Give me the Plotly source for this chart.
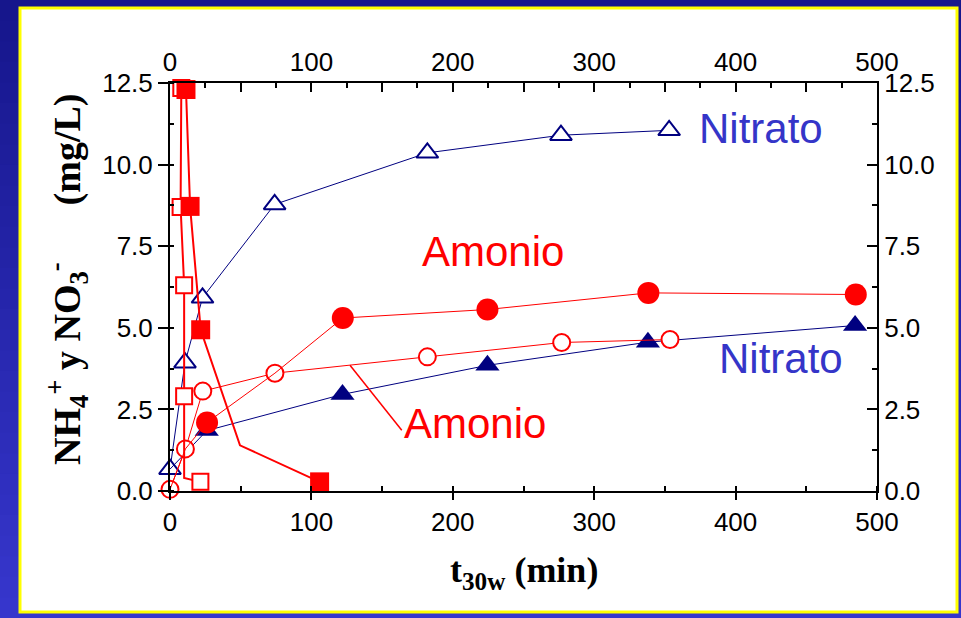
import plotly.graph_objects as go

# ---------------- data (t in min, concentration in mg/L) ----------------
# Nitrato, open triangles
t_nit_open = [0, 10.6, 23, 74, 182, 276.5, 353]
c_nit_open = [0.67, 3.93, 5.92, 8.78, 10.36, 10.90, 11.05]

# Nitrato, filled triangles (first point shared with the open series)
t_nit_fill = [0, 26, 122, 224.5, 338, 484.5]
c_nit_fill = [0.67, 1.85, 2.96, 3.85, 4.56, 5.07]

# Amonio, open circles
t_amo_circ_open = [0, 10.9, 23.2, 74.2, 182, 277, 353.6]
c_amo_circ_open = [0.05, 1.29, 3.06, 3.61, 4.11, 4.55, 4.64]

# Amonio, filled circles (passes through some open-circle points)
t_amo_circ_fill = [0, 10.9, 26.2, 74.2, 122.2, 224.5, 338.3, 485]
c_amo_circ_fill = [0.05, 1.29, 2.10, 3.61, 5.30, 5.56, 6.07, 6.02]

# Amonio, open squares
t_amo_sq_open = [8, 7.5, 10, 10, 10, 21.5]
c_amo_sq_open = [12.35, 8.70, 6.30, 2.90, 0.40, 0.28]

# Amonio, filled squares
t_amo_sq_fill = [11.3, 14.2, 21.7, 49.5, 105.8]
c_amo_sq_fill = [12.30, 8.72, 4.94, 1.40, 0.28]

x_ticks = [0, 100, 200, 300, 400, 500]
x_half_ticks = [50, 150, 250, 350, 450]

# points on a line that carry no symbol of their own
unmarked = {
    "nit_fill": [0],
    "amo_circ_fill": [0, 1, 3],
    "amo_sq_open": [4],
    "amo_sq_fill": [3],
}

# ---------------- styling ----------------
RED = "#ff0000"
NAVY = "#000080"
LABEL_BLUE = "#3535c8"
SANS = "Liberation Sans, Arial, sans-serif"
SERIF = "Liberation Serif, Times New Roman, serif"

W, H = 961, 618
ML, MR, MT, MB = 170, 84, 83, 127
PW, PH = W - ML - MR, H - MT - MB


def px(x):
    return (x - ML) / PW


def py(y):
    return (H - MB - y) / PH


def opacities(n, key):
    skip = set(unmarked.get(key, []))
    return [0 if i in skip else 1 for i in range(n)]


fig = go.Figure()


def add_series(t, c, key, symbol, size, color, filled, lw):
    fig.add_trace(go.Scatter(
        x=t, y=c, mode="lines+markers", cliponaxis=False,
        line=dict(color=color, width=lw),
        marker=dict(symbol=symbol, size=size,
                    color=color if filled else "white",
                    opacity=opacities(len(t), key),
                    line=dict(color=color, width=0 if filled else 2)),
        hoverinfo="skip", showlegend=False,
    ))


add_series(t_nit_open, c_nit_open, "nit_open", "triangle-up", 19, NAVY, False, 1)
add_series(t_nit_fill, c_nit_fill, "nit_fill", "triangle-up", 21, NAVY, True, 1)
add_series(t_amo_circ_open, c_amo_circ_open, "amo_circ_open", "circle", 17, RED, False, 1)
add_series(t_amo_circ_fill, c_amo_circ_fill, "amo_circ_fill", "circle", 22, RED, True, 1)
add_series(t_amo_sq_open, c_amo_sq_open, "amo_sq_open", "square", 16, RED, False, 2)
add_series(t_amo_sq_fill, c_amo_sq_fill, "amo_sq_fill", "square", 19, RED, True, 2)

# carriers for the mirrored top / right axes
for xa in ("x2", "x3"):
    fig.add_trace(go.Scatter(x=t_nit_open, y=c_nit_open, xaxis=xa, yaxis="y2",
                             mode="markers", marker=dict(opacity=0),
                             hoverinfo="skip", showlegend=False))

tickfont = dict(family=SANS, size=26, color="black")
axis_common = dict(showline=True, linecolor="black", linewidth=2,
                   showgrid=False, zeroline=False, tickcolor="black",
                   tickwidth=1.5, tickfont=tickfont)

# background: blue gradient frame, white panel with yellow border
shapes = []
N = 30
top_rgb, bot_rgb = (22, 22, 140), (54, 54, 204)
for i in range(N):
    f = i / (N - 1)
    col = "rgb(%d,%d,%d)" % tuple(round(a + (b - a) * f) for a, b in zip(top_rgb, bot_rgb))
    y0 = H * i / N
    y1 = H * (i + 1) / N + 1
    shapes.append(dict(type="rect", xref="paper", yref="paper", layer="below",
                       x0=px(0), x1=px(W), y0=py(y1), y1=py(y0),
                       fillcolor=col, line=dict(width=0)))
shapes.append(dict(type="rect", xref="paper", yref="paper", layer="below",
                   x0=px(20), x1=px(957), y0=py(612), y1=py(8),
                   fillcolor="white", line=dict(color="#ffff00", width=3)))
# leader line for the lower "Amonio" label
shapes.append(dict(type="line", xref="x", yref="y", x0=127.3, y0=3.85, x1=163.9, y1=1.86,
                   line=dict(color=RED, width=1.5)))

annotations = [
    dict(x=418, y=11.1, text="Nitrato", font=dict(family=SANS, size=42, color=LABEL_BLUE)),
    dict(x=432, y=4.06, text="Nitrato", font=dict(family=SANS, size=42, color=LABEL_BLUE)),
    dict(x=228.4, y=7.34, text="Amonio", font=dict(family=SANS, size=42, color=RED)),
    dict(x=215.5, y=2.07, text="Amonio", font=dict(family=SANS, size=42, color=RED)),
]
for a in annotations:
    a.update(xref="x", yref="y", showarrow=False, xanchor="center", yanchor="middle")

annotations.append(dict(
    xref="paper", yref="paper", x=px(524), y=py(572), showarrow=False,
    xanchor="center", yanchor="middle",
    text="<b>t<sub>30w</sub> (min)</b>",
    font=dict(family=SERIF, size=36, color="black")))
annotations.append(dict(
    xref="paper", yref="paper", x=px(67), y=py(280), showarrow=False,
    xanchor="center", yanchor="middle", textangle=-90,
    text="<b>NH<sub>4</sub><sup>+</sup> y NO<sub>3</sub><sup>-</sup>"
         "\u00a0\u00a0\u00a0\u00a0\u00a0\u00a0(mg/L)</b>",
    font=dict(family=SERIF, size=38, color="black")))

minor_x = dict(ticks="inside", ticklen=5, tickwidth=1.5, tickcolor="black")
fig.update_layout(
    width=W, height=H,
    margin=dict(l=ML, r=MR, t=MT, b=MB, pad=0),
    paper_bgcolor="rgb(40,40,170)", plot_bgcolor="white",
    showlegend=False,
    xaxis=dict(range=[0, 500], tickvals=x_ticks, ticks="outside", ticklen=7,
               minor=dict(dtick=50, **minor_x), **axis_common),
    yaxis=dict(range=[0, 12.5], dtick=2.5, tick0=0, tickformat=".1f",
               ticks="outside", ticklen=10,
               minor=dict(ticks="inside", dtick=1.25, ticklen=4, tickwidth=1.5, tickcolor="black"),
               **axis_common),
    xaxis2=dict(range=[0, 500], overlaying="x", side="top", anchor="y",
                tickvals=x_ticks, ticks="inside", ticklen=9,
                minor=dict(dtick=25, **minor_x), **axis_common),
    xaxis3=dict(range=[0, 500], overlaying="x", side="top", anchor="y",
                tickvals=x_half_ticks, ticks="inside", ticklen=9,
                showticklabels=False, showline=False, showgrid=False, zeroline=False,
                tickcolor="black", tickwidth=1.5),
    yaxis2=dict(range=[0, 12.5], overlaying="y", side="right", anchor="x",
                dtick=2.5, tick0=0, tickformat=".1f", ticks="inside", ticklen=10,
                minor=dict(ticks="inside", dtick=1.25, ticklen=5, tickwidth=1.5, tickcolor="black"),
                **axis_common),
    shapes=shapes,
    annotations=annotations,
)

fig.write_html("out.html")
